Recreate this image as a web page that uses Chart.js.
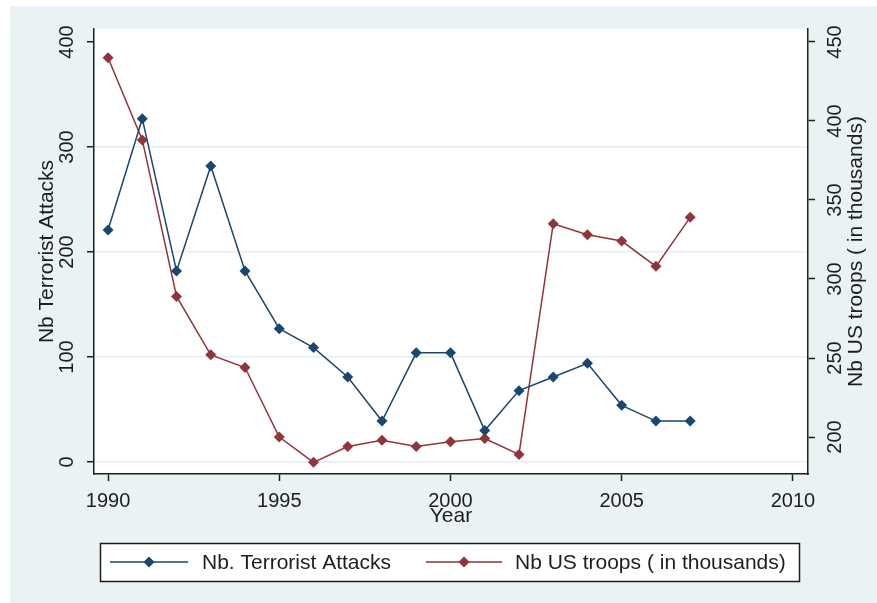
<!DOCTYPE html>
<html>
<head>
<meta charset="utf-8">
<script src="https://cdn.jsdelivr.net/npm/chart.js@4.4.1/dist/chart.umd.min.js"></script>
<style>
  html, body { margin: 0; padding: 0; background: #fff; }
  canvas { display: block; }
</style>
</head>
<body>
<canvas id="chart_1" width="877" height="603"></canvas>
<script>
// data
const years = [1990, 1991, 1992, 1993, 1994, 1995, 1996, 1997, 1998, 1999, 2000, 2001, 2002, 2003, 2004, 2005, 2006, 2007];
const attacks = [221, 327, 182, 282, 182, 127, 109, 81, 39, 104, 104, 30, 68, 81, 94, 54, 39, 39];
const troops = [440, 388, 289, 252, 244, 200, 184, 194, 198, 194, 197, 199, 189, 335, 328, 324, 308, 339];
const xTicks = [1990, 1995, 2000, 2005, 2010];
const leftTicks = [0, 100, 200, 300, 400];
const rightTicks = [200, 250, 300, 350, 400, 450];
const labels = ['Nb. Terrorist Attacks', 'Nb US troops ( in thousands)'];

const BLUE = '#1a476f';
const RED = '#90353b';
const BG = '#eaf2f3';
const INK = '#1e1e1e';
const FONT = '"Liberation Sans", Arial, sans-serif';

function pts(vals) {
    return years.map((y, i) => ({ x: y, y: vals[i] }));
}

function fixTicks(list) {
    return (scale) => { scale.ticks = list.map(v => ({ value: v })); };
}

const stataLook = {
    id: 'stataLook',
    beforeDraw(chart) {
        const ctx = chart.ctx;
        const a = chart.chartArea;
        ctx.save();
        ctx.fillStyle = '#fff';
        ctx.fillRect(0, 0, chart.width, chart.height);
        ctx.fillStyle = BG;
        ctx.fillRect(10, 6, chart.width - 10, chart.height - 6);
        ctx.fillStyle = '#fff';
        ctx.fillRect(a.left, a.top, a.right - a.left, a.bottom - a.top);
        ctx.restore();
    },
    afterDraw(chart) {
        const ctx = chart.ctx;
        const a = chart.chartArea;
        const sx = chart.scales.x, sy = chart.scales.y, sy1 = chart.scales.y1;
        ctx.save();
        ctx.fillStyle = INK;
        ctx.font = '20px ' + FONT;
        ctx.textAlign = 'center';
        ctx.textBaseline = 'middle';

        // rotated y labels
        sy.ticks.forEach(t => {
            ctx.save();
            ctx.translate(67, sy.getPixelForValue(t.value));
            ctx.rotate(-Math.PI / 2);
            ctx.fillText(String(t.value), 0, 0);
            ctx.restore();
        });
        sy1.ticks.forEach(t => {
            ctx.save();
            ctx.translate(835, sy1.getPixelForValue(t.value));
            ctx.rotate(-Math.PI / 2);
            ctx.fillText(String(t.value), 0, 0);
            ctx.restore();
        });
        sx.ticks.forEach(t => {
            ctx.fillText(String(t.value), sx.getPixelForValue(t.value), 501);
        });

        // axis titles
        ctx.font = '21px ' + FONT;
        const midY = (a.top + a.bottom) / 2;
        ctx.save();
        ctx.translate(47, midY);
        ctx.rotate(-Math.PI / 2);
        ctx.fillText('Nb Terrorist Attacks', 0, 0);
        ctx.restore();
        ctx.save();
        ctx.translate(856, midY);
        ctx.rotate(-Math.PI / 2);
        ctx.fillText('Nb US troops ( in thousands)', 0, 0);
        ctx.restore();
        ctx.fillText('Year', (a.left + a.right) / 2, 516);

        // legend box
        ctx.fillStyle = '#fff';
        ctx.fillRect(100, 543, 699, 38);
        ctx.strokeStyle = INK;
        ctx.lineWidth = 1.5;
        ctx.strokeRect(100.5, 543.5, 699, 38);
        const items = [
            { x0: 110, x1: 188, tx: 202, color: BLUE, text: labels[0] },
            { x0: 426, x1: 502, tx: 515, color: RED, text: labels[1] }
        ];
        items.forEach(it => {
            ctx.strokeStyle = it.color;
            ctx.lineWidth = 1.5;
            ctx.beginPath();
            ctx.moveTo(it.x0, 562);
            ctx.lineTo(it.x1, 562);
            ctx.stroke();
            const cx = (it.x0 + it.x1) / 2;
            ctx.fillStyle = it.color;
            ctx.beginPath();
            ctx.moveTo(cx - 5.5, 562);
            ctx.lineTo(cx, 556.5);
            ctx.lineTo(cx + 5.5, 562);
            ctx.lineTo(cx, 567.5);
            ctx.closePath();
            ctx.fill();
            ctx.fillStyle = INK;
            ctx.textAlign = 'left';
            ctx.fillText(it.text, it.tx, 563);
        });
        ctx.restore();
    }
};

const data = {
    datasets: [
        {
            label: labels[0],
            data: pts(attacks),
            yAxisID: 'y',
            borderColor: BLUE,
            backgroundColor: BLUE,
            borderWidth: 1.5,
            pointStyle: 'rectRot',
            pointRadius: 5.5,
            pointBorderWidth: 0,
            tension: 0
        },
        {
            label: labels[1],
            data: pts(troops),
            yAxisID: 'y1',
            borderColor: RED,
            backgroundColor: RED,
            borderWidth: 1.5,
            pointStyle: 'rectRot',
            pointRadius: 5.5,
            pointBorderWidth: 0,
            tension: 0
        }
    ]
};

const config = {
    type: 'line',
    data: data,
    options: {
        responsive: false,
        animation: false,
        devicePixelRatio: 1,
        layout: { padding: { left: 10, right: 10, top: 29, bottom: 69 } },
        plugins: {
            legend: { display: false },
            tooltip: { enabled: false }
        },
        scales: {
            x: {
                type: 'linear',
                min: 1989.59,
                max: 2010.44,
                afterBuildTicks: fixTicks(xTicks),
                afterFit: (s) => { s.height = 60; },
                ticks: { display: false },
                border: { color: INK, width: 1.5 },
                grid: { drawOnChartArea: false, tickLength: 7, tickColor: INK, tickWidth: 1.5 }
            },
            y: {
                position: 'left',
                min: -11.4,
                max: 412.4,
                afterBuildTicks: fixTicks(leftTicks),
                afterFit: (s) => { s.width = 84; },
                ticks: { display: false },
                border: { color: INK, width: 1.5 },
                grid: {
                    color: (c) => (c.tick && c.tick.value === 400) ? 'rgba(0,0,0,0)' : '#e4eef1',
                    lineWidth: 1.5,
                    tickLength: 7,
                    tickColor: INK,
                    tickWidth: 1.5
                }
            },
            y1: {
                position: 'right',
                min: 176.6,
                max: 458.2,
                afterBuildTicks: fixTicks(rightTicks),
                afterFit: (s) => { s.width = 59; },
                ticks: { display: false },
                border: { color: INK, width: 1.5 },
                grid: { drawOnChartArea: false, tickLength: 7, tickColor: INK, tickWidth: 1.5 }
            }
        }
    },
    plugins: [stataLook]
};

var myChart = new Chart(document.getElementById('chart_1'), config);
</script>
</body>
</html>
